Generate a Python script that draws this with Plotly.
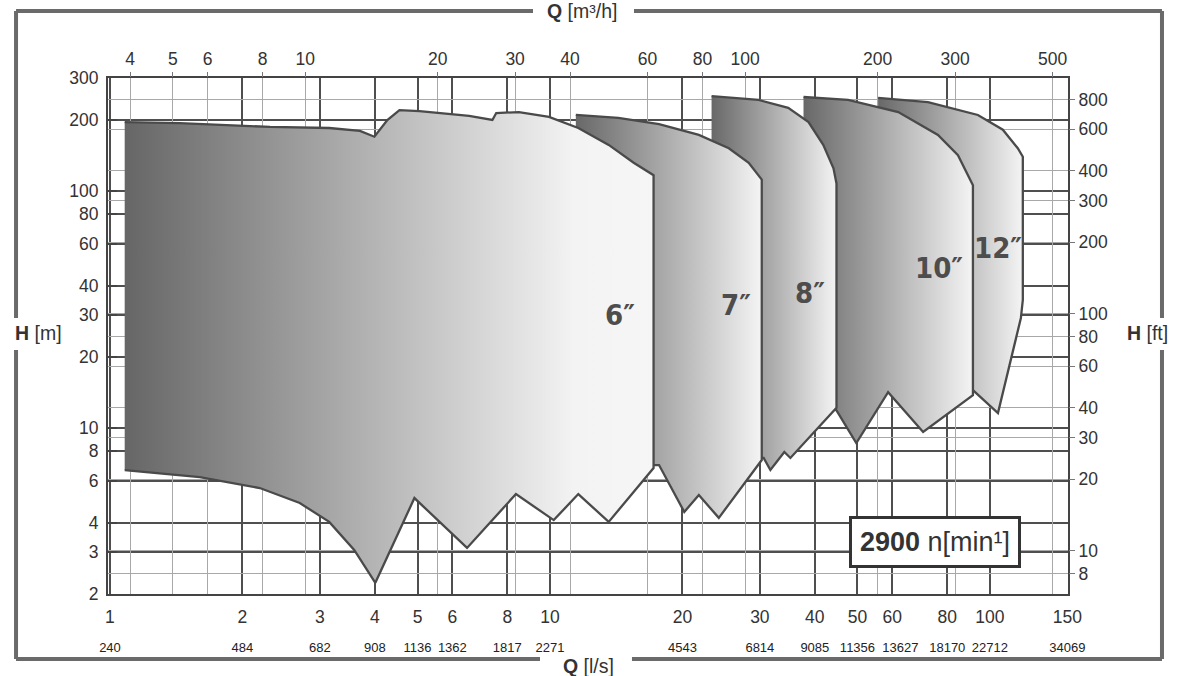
import math
import plotly.graph_objects as go

# ---- axis ticks -------------------------------------------------------
q_ls_ticks = [1, 2, 3, 4, 5, 6, 8, 10, 20, 30, 40, 50, 60, 80, 100, 150]
q_m3h_ticks = [4, 5, 6, 8, 10, 20, 30, 40, 60, 80, 100, 200, 300, 500]
h_m_ticks = [2, 3, 4, 6, 8, 10, 20, 30, 40, 60, 80, 100, 200, 300]
h_ft_ticks = [8, 10, 20, 30, 40, 60, 80, 100, 200, 300, 400, 600, 800]
flow_row_labels = ["240", "484", "682", "908", "1136", "1362", "1817", "2271",
                   "4543", "6814", "9085", "11356", "13627", "18170", "22712", "34069"]

# ---- operating fields, Q [l/s] / H [m] ------------------------------
q_6 = [1.08, 1.44, 2.31, 3.15, 3.7, 3.99, 4.27, 4.55, 5.05, 6.55, 7.4, 7.55, 8.5, 9.95,
       11.6, 13.6, 15.5, 17.2, 17.2, 13.6, 11.6, 10.2, 8.37, 6.48, 4.92, 4.01, 3.59,
       3.15, 2.70, 2.19, 1.60, 1.08]
h_6 = [196, 194, 187, 185, 180, 170, 200, 220, 218, 208, 200, 214, 216, 206,
       185, 157, 132, 117, 6.8, 4.03, 5.28, 4.1, 5.28, 3.13, 5.08, 2.23, 3.07,
       4.03, 4.84, 5.6, 6.23, 6.67]

q_7 = [11.45, 14.3, 17.7, 21.8, 25.5, 28.3, 30.3, 30.3, 24.2, 21.8, 20.2, 17.7, 15.9, 11.45]
h_7 = [210, 204, 192, 173, 152, 132, 112, 7.35, 4.19, 5.23, 4.44, 7.0, 7.0, 7.0]

q_8 = [23.3, 29.8, 34.8, 38.7, 41.8, 44.1, 44.8, 44.8, 35.2, 34.1, 31.7, 30.6, 23.3]
h_8 = [252, 243, 225, 196, 157, 125, 108, 12.2, 7.5, 7.95, 6.67, 7.5, 7.5]

q_10 = [37.7, 47.6, 61.9, 76.2, 84.6, 91.5, 91.5, 70.5, 58.7, 49.7, 44.8, 42.9, 37.7]
h_10 = [250, 243, 216, 173, 142, 106, 13.8, 9.65, 14.2, 8.67, 11.9, 13.2, 13.2]

q_12 = [55.7, 72.3, 93.9, 107, 115.7, 118.8, 118.8, 117.6, 104.3, 91.5, 86.9, 55.7]
h_12 = [248, 238, 210, 182, 152, 140, 34.8, 29.2, 11.6, 14.5, 16.0, 16.0]

# label text and anchor point (Q, H) of every field, back to front
fields = [
    ("12″", q_12, h_12, 104.5, 57.7),
    ("10″", q_10, h_10, 76.5, 47.5),
    ("8″", q_8, h_8, 39.1, 37.3),
    ("7″", q_7, h_7, 26.5, 33.2),
    ("6″", q_6, h_6, 14.4, 30.1),
]

FONT = "Liberation Sans, Arial, sans-serif"
INK = "#333333"

fig = go.Figure()

for name, qs, hs, lq, lh in fields:
    stops = [[0, "#686868"], [1, "#f4f4f4"]]
    if name == "6″":
        stops = [[0, "#666666"], [0.85, "#f3f3f3"], [1, "#f6f6f6"]]
    fig.add_trace(go.Scatter(
        x=qs, y=hs, mode="lines", fill="toself",
        fillgradient=dict(type="horizontal", colorscale=stops),
        line=dict(color="#4a4a4a", width=2.3),
        hoverinfo="skip", name=name,
    ))
    # annotation positions on log axes are given in log10 units
    fig.add_annotation(x=math.log10(lq), y=math.log10(lh), xref="x", yref="y",
                       text=f"<b>{name}</b>", showarrow=False,
                       font=dict(family="DejaVu Sans Condensed, DejaVu Sans",
                                 size=29, color="#4d4d4d"))

# placeholder traces so the secondary axes are laid out
for xa, ya in [("x2", "y"), ("x", "y2"), ("x3", "y"), ("x4", "y")]:
    fig.add_trace(go.Scatter(x=[None], y=[None], xaxis=xa, yaxis=ya, hoverinfo="skip"))

x_rng = [-0.0045, 2.1775]
y_rng = [0.30103, 2.4782]
M3H_PER_LS = 3.6
FT_PER_M = 3.2808
x2_rng = [v + math.log10(M3H_PER_LS) for v in x_rng]
y2_rng = [v + math.log10(FT_PER_M) for v in y_rng]

tickfont = dict(family=FONT, size=17.5, color=INK)
rowfont = dict(family=FONT, size=13, color="#222222")
dark_grid = dict(showgrid=True, gridcolor="#4f4f4f", gridwidth=1.6)
light_grid = dict(showgrid=True, gridcolor="#a8a8a8", gridwidth=1)

# lower row of flow figures; the 60 l/s entry sits a bit right of its tick
row_main = [(q, t) for q, t in zip(q_ls_ticks, flow_row_labels) if q != 60]
row_side = [(q, t) for q, t in zip(q_ls_ticks, flow_row_labels) if q == 60]

fig.update_layout(
    width=1177, height=676,
    margin=dict(l=108, r=109, t=78, b=82, autoexpand=False),
    paper_bgcolor="white", plot_bgcolor="white", showlegend=False,
    xaxis=dict(type="log", range=x_rng, tickvals=q_ls_ticks,
               ticktext=[str(v) for v in q_ls_ticks], tickfont=tickfont,
               ticks="", ticklabelstandoff=6, showline=True, mirror=True,
               linecolor="#444444", linewidth=2, zeroline=False, **dark_grid),
    xaxis2=dict(type="log", range=x2_rng, overlaying="x", side="top", anchor="y",
                tickvals=q_m3h_ticks, ticktext=[str(v) for v in q_m3h_ticks],
                tickfont=tickfont, ticks="outside", ticklen=5, tickcolor="#777777",
                showline=False, zeroline=False, **light_grid),
    xaxis3=dict(type="log", range=x_rng, overlaying="x", side="bottom", anchor="y",
                tickvals=[q for q, _ in row_main], ticktext=[t for _, t in row_main],
                tickangle=0, tickfont=rowfont,
                ticks="", ticklabelstandoff=44, showgrid=False, showline=False,
                zeroline=False),
    xaxis4=dict(type="log", range=x_rng, overlaying="x", side="bottom", anchor="y",
                tickvals=[q for q, _ in row_side], ticktext=[t for _, t in row_side],
                tickangle=0, tickfont=rowfont, ticklabelshift=8,
                ticks="", ticklabelstandoff=44, showgrid=False, showline=False,
                zeroline=False),
    yaxis=dict(type="log", range=y_rng, tickvals=h_m_ticks,
               ticktext=[str(v) for v in h_m_ticks], tickfont=tickfont,
               ticks="inside", ticklen=9, tickwidth=2, tickcolor="#444444",
               ticklabelstandoff=4, showline=True, mirror=True,
               linecolor="#444444", linewidth=2, zeroline=False, **dark_grid),
    yaxis2=dict(type="log", range=y2_rng, overlaying="y", side="right", anchor="x",
                tickvals=h_ft_ticks, ticktext=[str(v) for v in h_ft_ticks],
                tickfont=tickfont, ticks="outside", ticklen=6, tickcolor="#777777",
                showline=False, zeroline=False, **light_grid),
)

# outer frame, broken where the axis titles sit
FRAME = dict(color="#6a6a6a", width=4)
segments = [
    (-0.0958, 1.1298, 0.4427, 1.1298),
    (0.5479, 1.1298, 1.0979, 1.1298),
    (-0.0958, 1.1298, -0.0958, 0.5349),
    (-0.0958, 0.4729, -0.0958, -0.126),
    (1.0979, 1.1298, 1.0979, 0.5349),
    (1.0979, 0.4729, 1.0979, -0.126),
    (-0.0958, -0.126, 0.45, -0.126),
    (0.5458, -0.126, 1.0979, -0.126),
]
for x0, y0, x1, y1 in segments:
    fig.add_shape(type="line", xref="paper", yref="paper",
                  x0=x0, y0=y0, x1=x1, y1=y1, line=FRAME, layer="above")

titles = [
    ("<b>Q</b> [m³/h]", 0.4938, 1.1298),
    ("<b>H</b> [m]", -0.0729, 0.5058),
    ("<b>H</b> [ft]", 1.0833, 0.5058),
    ("<b>Q</b> [l/s]", 0.501, -0.1395),
]
for txt, xp, yp in titles:
    fig.add_annotation(x=xp, y=yp, xref="paper", yref="paper", text=txt,
                       xanchor="center", yanchor="middle",
                       showarrow=False, font=dict(family=FONT, size=19.5, color=INK))

fig.add_annotation(x=0.8615, y=0.1008, xref="paper", yref="paper",
                   xanchor="center", yanchor="middle",
                   text="<b>2900</b> n[min¹]", showarrow=False,
                   font=dict(family=FONT, size=27, color=INK),
                   bgcolor="white", bordercolor="#333333", borderwidth=3, borderpad=8)

fig.write_html("out.html")
